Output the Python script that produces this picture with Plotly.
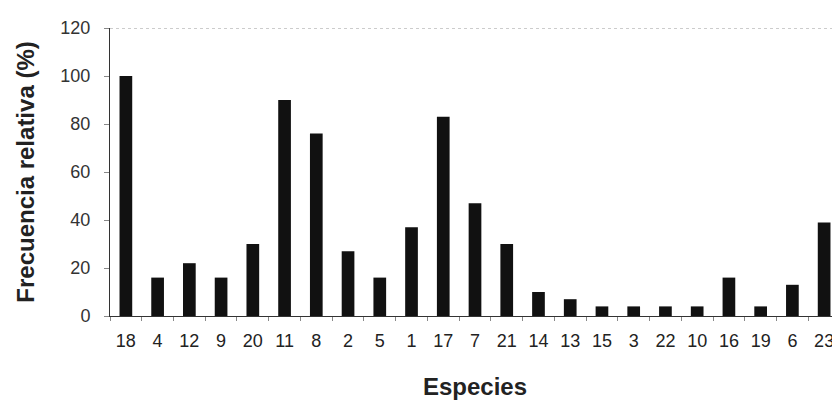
import plotly.graph_objects as go

especies = ["18", "4", "12", "9", "20", "11", "8", "2", "5", "1", "17", "7",
            "21", "14", "13", "15", "3", "22", "10", "16", "19", "6", "23"]
frecuencia = [100, 16, 22, 16, 30, 90, 76, 27, 16, 37, 83, 47,
              30, 10, 7, 4, 4, 4, 4, 16, 4, 13, 39]
y_ticks = [0, 20, 40, 60, 80, 100, 120]

fig = go.Figure(go.Bar(x=especies, y=frecuencia, width=0.4,
                       marker=dict(color="#111111", line=dict(width=0))))

font_family = "Liberation Sans, Arial, sans-serif"
fig.update_layout(
    width=832, height=392,
    margin=dict(l=102, r=0, t=20, b=84, autoexpand=False),
    paper_bgcolor="white", plot_bgcolor="white",
    showlegend=False,
    font=dict(family=font_family, color="#222222"),
    xaxis=dict(type="category", showline=True, linecolor="#333333", linewidth=1,
               ticks="outside", tickson="boundaries", ticklen=4, tickcolor="#888888",
               ticklabelstandoff=8,
               tickfont=dict(size=18, color="#222222"), showgrid=False, automargin=False,
               range=[-0.5, 22.5],
               title=dict(text="<b>Especies</b>", font=dict(size=24, color="#222222"), standoff=32)),
    yaxis=dict(range=[0, 120], tickvals=y_ticks, showline=True, linecolor="#333333", linewidth=1,
               ticks="outside", ticklen=5, tickcolor="#888888", automargin=False,
               ticklabelstandoff=10,
               tickfont=dict(size=18, color="#333333"), showgrid=False, zeroline=False,
               title=dict(text="<b>Frecuencia relativa (%)</b>", font=dict(size=24, color="#222222"), standoff=18)),
)
fig.add_shape(type="line", xref="paper", yref="y", x0=0, x1=1, y0=120, y1=120,
              line=dict(color="#999999", width=1, dash="dot"))
fig.write_html("out.html")
